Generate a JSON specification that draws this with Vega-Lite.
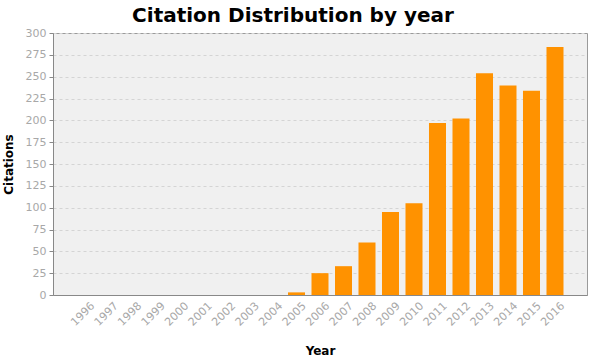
{
  "$schema": "https://vega.github.io/schema/vega-lite/v6.json",
  "autosize": {"type": "none"},
  "padding": {"left": 53, "top": 33, "right": 13, "bottom": 65},
  "width": 534,
  "height": 262,
  "background": "white",
  "title": {
    "text": "Citation Distribution by year",
    "font": "DejaVu Sans",
    "fontSize": 20,
    "fontWeight": "bold",
    "color": "#000000",
    "anchor": "middle",
    "dx": -27,
    "offset": 1
  },
  "config": {
    "view": {"fill": "#f0f0f0", "stroke": "#9a9a9a", "strokeWidth": 1},
    "axis": {
      "labelFont": "DejaVu Sans",
      "labelFontSize": 11,
      "labelColor": "#a8a8a8",
      "titleFont": "DejaVu Sans",
      "titleFontSize": 12,
      "titleFontWeight": "bold",
      "titleColor": "#000000",
      "domainColor": "#888888",
      "tickColor": "#888888"
    }
  },
  "data": {
    "values": [
      {"year": "1996", "citations": 0},
      {"year": "1997", "citations": 0},
      {"year": "1998", "citations": 0},
      {"year": "1999", "citations": 0},
      {"year": "2000", "citations": 0},
      {"year": "2001", "citations": 0},
      {"year": "2002", "citations": 0},
      {"year": "2003", "citations": 0},
      {"year": "2004", "citations": 0},
      {"year": "2005", "citations": 3},
      {"year": "2006", "citations": 25},
      {"year": "2007", "citations": 33},
      {"year": "2008", "citations": 60},
      {"year": "2009", "citations": 95},
      {"year": "2010", "citations": 105},
      {"year": "2011", "citations": 197},
      {"year": "2012", "citations": 202},
      {"year": "2013", "citations": 254},
      {"year": "2014", "citations": 240},
      {"year": "2015", "citations": 234},
      {"year": "2016", "citations": 284}
    ]
  },
  "mark": {"type": "bar", "color": "#ff9200"},
  "encoding": {
    "x": {
      "field": "year",
      "type": "ordinal",
      "title": "Year",
      "scale": {"paddingInner": 0.276, "paddingOuter": 1.23},
      "axis": {
        "labelAngle": -45,
        "labelAlign": "right",
        "labelBaseline": "middle",
        "ticks": false,
        "labelPadding": 9,
        "labelOffset": 8,
        "titleY": 50,
        "domainColor": "#888888"
      }
    },
    "y": {
      "field": "citations",
      "type": "quantitative",
      "title": "Citations",
      "scale": {"domain": [0, 300], "nice": false},
      "axis": {
        "values": [0, 25, 50, 75, 100, 125, 150, 175, 200, 225, 250, 275, 300],
        "tickSize": 4,
        "labelPadding": 3,
        "gridColor": "#d4d4d4",
        "gridDash": [3, 3],
        "titleX": -38
      }
    }
  }
}
